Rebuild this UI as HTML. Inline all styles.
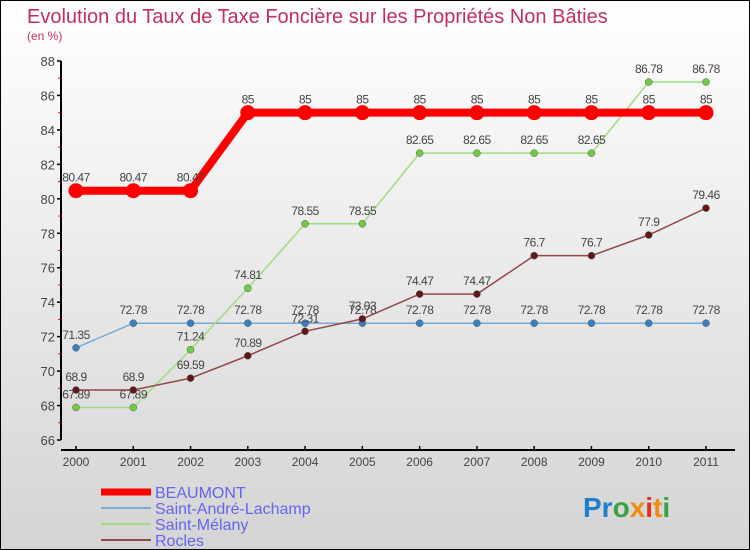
<!DOCTYPE html>
<html><head><meta charset="utf-8"><style>
body{margin:0}
#c{width:750px;height:550px;position:relative;box-sizing:border-box;border:1px solid #000;background:linear-gradient(#fff,#d4d4d4);font-family:"Liberation Sans",sans-serif;overflow:hidden}
</style></head><body>
<div id="c">
<svg id="s" width="750" height="550" style="position:absolute;left:-1px;top:-1px">
<text x="27" y="23" font-size="20" fill="#c0305a">Evolution du Taux de Taxe Foncière sur les Propriétés Non Bâties</text>
<text x="27" y="40" font-size="12" fill="#c0305a">(en %)</text>
<g id="axes"></g><g id="series"></g><g id="legend"></g>
<text x="583" y="517" font-size="28" font-weight="bold"><tspan fill="#1e7fd0">Pr</tspan><tspan fill="#3aa040">o</tspan><tspan fill="#f08a10">x</tspan><tspan fill="#e0301e">i</tspan><tspan fill="#f08a10">t</tspan><tspan fill="#3aa040">i</tspan></text>
</svg>
</div>
<script>
const years=["2000","2001","2002","2003","2004","2005","2006","2007","2008","2009","2010","2011"];
const yTicks=[66,68,70,72,74,76,78,80,82,84,86,88];
const beaumont=[80.47,80.47,80.47,85,85,85,85,85,85,85,85,85];
const standre=[71.35,72.78,72.78,72.78,72.78,72.78,72.78,72.78,72.78,72.78,72.78,72.78];
const melany=[67.89,67.89,71.24,74.81,78.55,78.55,82.65,82.65,82.65,82.65,86.78,86.78];
const rocles=[68.9,68.9,69.59,70.89,72.31,73.03,74.47,74.47,76.7,76.7,77.9,79.46];
const names=["BEAUMONT","Saint-André-Lachamp","Saint-Mélany","Rocles"];
const NS="http://www.w3.org/2000/svg";
const X=i=>76+i*(706-76)/11;
const Y=v=>440-(v-66)*(440-61)/22;
function mk(t,a,p){const e=document.createElementNS(NS,t);for(const k in a)e.setAttribute(k,a[k]);p.appendChild(e);return e;}
const ax=document.getElementById('axes');
const ya=mk('line',{x1:61,y1:61,x2:61,y2:440,stroke:'#000','stroke-width':2},ax);


yTicks.forEach(v=>{
  mk('line',{x1:57,x2:61,y1:Y(v),y2:Y(v),stroke:'#000','stroke-width':1.5},ax);
  if(v<88)mk('line',{x1:58,x2:61,y1:Y(v+1),y2:Y(v+1),stroke:'#f00','stroke-width':1},ax);
  const t=mk('text',{x:55,y:Y(v)+5,'text-anchor':'end','font-size':13,fill:'#444'},ax);
  t.textContent=v;
  
  
});
const xa=mk('line',{x1:61,y1:450,x2:735,y2:450,stroke:'#000','stroke-width':2},ax);


years.forEach((y,i)=>{
  mk('line',{x1:X(i),x2:X(i),y1:446,y2:450,stroke:'#000','stroke-width':1.5},ax);
  const t=mk('text',{x:X(i),y:466,'text-anchor':'middle','font-size':12,fill:'#444'},ax);
  t.textContent=y;
  
  
});
const sg=document.getElementById('series');
const defs=[[standre,'#7aaad0','#3a80c0',1.5,3.5],[melany,'#a0dc80','#70cc40',1.5,3.5],[rocles,'#904848','#601818',1.5,3.5],[beaumont,'#f00','#f00',8,7.5]];
const nm=['saint-andre-lachamp','saint-melany','rocles','beaumont'];
defs.forEach(([d,lc,pc,w,r],k)=>{
  const g=mk('g',{},sg);
  
  
  const pl=mk('polyline',{points:d.map((v,i)=>X(i)+','+Y(v)).join(' '),fill:'none',stroke:lc,'stroke-width':w},g);
  
  
  d.forEach((v,i)=>{
    const c=mk('circle',{cx:X(i),cy:Y(v),r:r,fill:pc,stroke:k==3?'none':'#555','stroke-width':0.5},g);
    
    
    const t=mk('text',{x:X(i),y:Y(v)-9,'text-anchor':'middle','font-size':12,fill:'#444','letter-spacing':'-0.5'},g);
    t.textContent=v;
    
    
  });
});
const lg=document.getElementById('legend');
const lc=[['#f00',7],['#7aaad0',2],['#a0dc80',2],['#904848',2]];
names.forEach((n,k)=>{
  const y=492+k*16;
  const l=mk('line',{x1:101,x2:151,y1:y,y2:y,stroke:lc[k][0],'stroke-width':lc[k][1]},lg);
  
  
  const t=mk('text',{x:155,y:y+6,'font-size':16,fill:'#6464f0'},lg);
  t.textContent=n;
  
  
});
</script>
</body></html>
